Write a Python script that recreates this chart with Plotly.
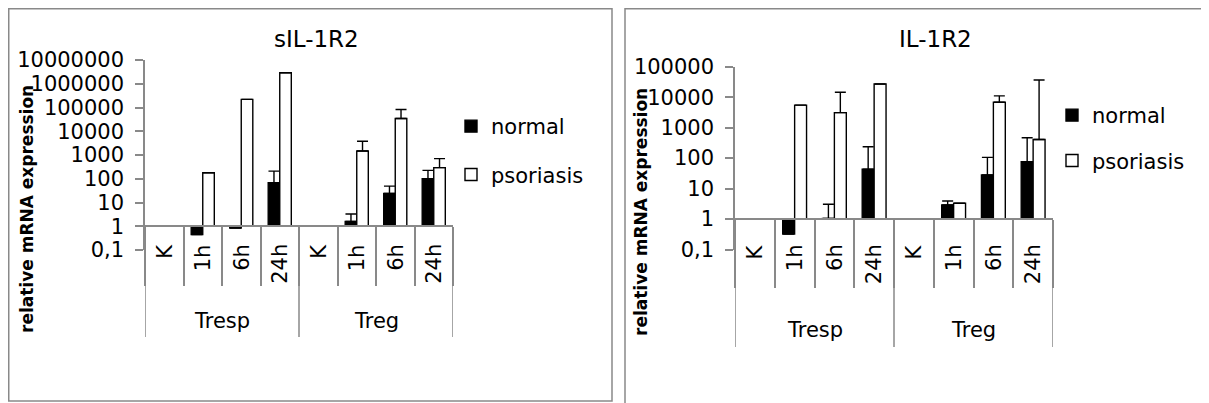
import plotly.graph_objects as go

W, H = 1209, 403

# ---------------- data ----------------
time_labels = ["K", "1h", "6h", "24h"]
group_labels = ["Tresp", "Treg"]
series_names = ["normal", "psoriasis"]
y_title = "relative mRNA expression"

sil_title = "sIL-1R2"
sil_normal = [1.0, 0.45, 0.85, 68, 1.0, 1.6, 24, 100]
sil_normal_err = [0, 0, 0, 142, 0, 1.7, 25, 125]
sil_psoriasis = [1.0, 180, 220000, 2900000, 1.0, 1480, 34600, 295]
sil_psoriasis_err = [0, 0, 0, 0, 0, 2300, 48000, 410]
sil_tickvals = [0.1, 1, 10, 100, 1e3, 1e4, 1e5, 1e6, 1e7]
sil_ticktext = ["0,1", "1", "10", "100", "1000", "10000", "100000", "1000000", "10000000"]

il_title = "IL-1R2"
il_normal = [1.0, 0.32, 1.05, 43, 1.0, 2.9, 28, 76]
il_normal_err = [0, 0, 2.0, 192, 0, 1.0, 78, 389]
il_psoriasis = [1.0, 5500, 3100, 27000, 1.0, 3.3, 6800, 410]
il_psoriasis_err = [0, 0, 11400, 0, 0, 0, 4200, 36000]
il_tickvals = [0.1, 1, 10, 100, 1e3, 1e4, 1e5]
il_ticktext = ["0,1", "1", "10", "100", "1000", "10000", "100000"]

# ---------------- styling / geometry (page pixels) ----------------
FONT = "DejaVu Sans"
GRAY = "#898989"
OFF = 8  # default page body margin
fx = lambda px: (px - OFF) / W
fy = lambda py: 1 - (py - OFF) / H

panels = [
    dict(title=sil_title, normal=sil_normal, normal_err=sil_normal_err,
         psor=sil_psoriasis, psor_err=sil_psoriasis_err,
         tickvals=sil_tickvals, ticktext=sil_ticktext,
         frame=(8.75, 8.75, 612, 401), plot=(145, 453, 60, 250),
         title_xy=(316, 39), ytitle_xy=(27, 209), label_top=242,
         inner_end=285, group_y=321, divider_end=337,
         legend_xy=(451, 98), legend_gap=18),
    dict(title=il_title, normal=il_normal, normal_err=il_normal_err,
         psor=il_psoriasis, psor_err=il_psoriasis_err,
         tickvals=il_tickvals, ticktext=il_ticktext,
         frame=(625, 8.75, 1230, 420), plot=(735, 1053, 66.7, 249.5),
         title_xy=(935, 39), ytitle_xy=(641, 212), label_top=242,
         inner_end=287, group_y=330, divider_end=347,
         legend_xy=(1052, 87), legend_gap=15),
]

n_cat = len(group_labels) * len(time_labels)
cats = list(range(n_cat))
boundaries = [i - 0.5 for i in range(n_cat + 1)]
group_bounds = [g * len(time_labels) - 0.5 for g in range(len(group_labels) + 1)]
group_centers = [g * len(time_labels) + (len(time_labels) - 1) / 2 for g in range(len(group_labels))]

fig = go.Figure()
shapes, annotations = [], []
layout = {}

for k, p in enumerate(panels):
    sfx = "" if k == 0 else str(k + 1)
    xname, yname = "x" + sfx, "y" + sfx
    legname = "legend" + sfx
    l, r, t, b = p["plot"]
    rmin = -1
    rmax = len(p["tickvals"]) - 2
    axis_py = t + (rmax - 0) / (rmax - rmin) * (b - t)

    for name, vals, errs, fill in [
        (series_names[0], p["normal"], p["normal_err"], "black"),
        (series_names[1], p["psor"], p["psor_err"], "white"),
    ]:
        fig.add_trace(go.Bar(
            x=cats, y=[v - 1 for v in vals], base=1, name=name,
            marker=dict(color=fill, line=dict(color="black", width=1.4)),
            error_y=dict(type="data", symmetric=False, array=errs,
                         arrayminus=[0] * len(errs), color="black",
                         thickness=1.4, width=5.5),
            xaxis=xname, yaxis=yname, legend=legname,
            legendgroup=name + sfx, hoverinfo="skip",
        ))

    layout["xaxis" + sfx] = dict(
        domain=[fx(l), fx(r)], range=[-0.5, n_cat - 0.5], anchor="free",
        position=fy(axis_py), showline=True, linecolor=GRAY, linewidth=1.5,
        tickmode="array", tickvals=boundaries, ticks="outside",
        ticklen=p["inner_end"] - axis_py, tickcolor=GRAY, tickwidth=1.5,
        showticklabels=False, showgrid=False, zeroline=False, fixedrange=True,
    )
    layout["yaxis" + sfx] = dict(
        domain=[fy(b), fy(t)], type="log", range=[rmin, rmax], anchor=xname,
        showline=True, linecolor=GRAY, linewidth=1.5,
        tickmode="array", tickvals=p["tickvals"], ticktext=p["ticktext"],
        ticks="outside", ticklen=8, tickcolor=GRAY, tickwidth=1.5,
        ticklabelstandoff=7,
        tickfont=dict(family=FONT, size=21, color="black"),
        showgrid=False, zeroline=False, fixedrange=True,
    )
    layout[legname] = dict(
        x=fx(p["legend_xy"][0]), y=1 - p["legend_xy"][1] / H,
        xanchor="left", yanchor="top", traceorder="grouped",
        tracegroupgap=p["legend_gap"], bgcolor="rgba(0,0,0,0)",
        font=dict(family=FONT, size=21, color="black"),
    )

    # chart frame
    fl, ft, fr, fb = p["frame"]
    shapes.append(dict(type="rect", xref="paper", yref="paper",
                       x0=fx(fl), x1=fx(fr), y0=fy(fb), y1=fy(ft),
                       line=dict(color=GRAY, width=1.5), layer="below"))
    # outer group dividers
    for gb in group_bounds:
        shapes.append(dict(type="line", xref=xname, yref="paper",
                           x0=gb, x1=gb, y0=fy(axis_py), y1=fy(p["divider_end"]),
                           line=dict(color=GRAY, width=1.5)))
    # inner category labels
    for i in cats:
        annotations.append(dict(
            x=i, xref=xname, y=fy(p["label_top"]), yref="paper",
            text=time_labels[i % len(time_labels)], textangle=-90,
            showarrow=False, xanchor="center", yanchor="top",
            font=dict(family=FONT, size=21, color="black")))
    # group labels
    for g, gc in enumerate(group_centers):
        annotations.append(dict(
            x=gc, xref=xname, y=fy(p["group_y"]), yref="paper",
            text=group_labels[g], showarrow=False, xanchor="center", yanchor="middle",
            font=dict(family=FONT, size=21, color="black")))
    # chart title
    annotations.append(dict(
        x=fx(p["title_xy"][0]), y=fy(p["title_xy"][1]), xref="paper", yref="paper",
        text=p["title"], showarrow=False, xanchor="center", yanchor="middle",
        font=dict(family=FONT, size=23, color="black")))
    # y-axis title
    annotations.append(dict(
        x=fx(p["ytitle_xy"][0]), y=fy(p["ytitle_xy"][1]), xref="paper", yref="paper",
        text="<b>" + y_title + "</b>", textangle=-90, showarrow=False,
        xanchor="center", yanchor="middle",
        font=dict(family=FONT, size=17, color="black")))

fig.update_layout(
    width=W, height=H, margin=dict(l=0, r=0, t=0, b=0, autoexpand=False),
    paper_bgcolor="white", plot_bgcolor="white",
    barmode="group", bargap=0.4, bargroupgap=0,
    showlegend=True, shapes=shapes, annotations=annotations,
    font=dict(family=FONT, color="black"),
    **layout,
)

fig.write_html("out.html")
